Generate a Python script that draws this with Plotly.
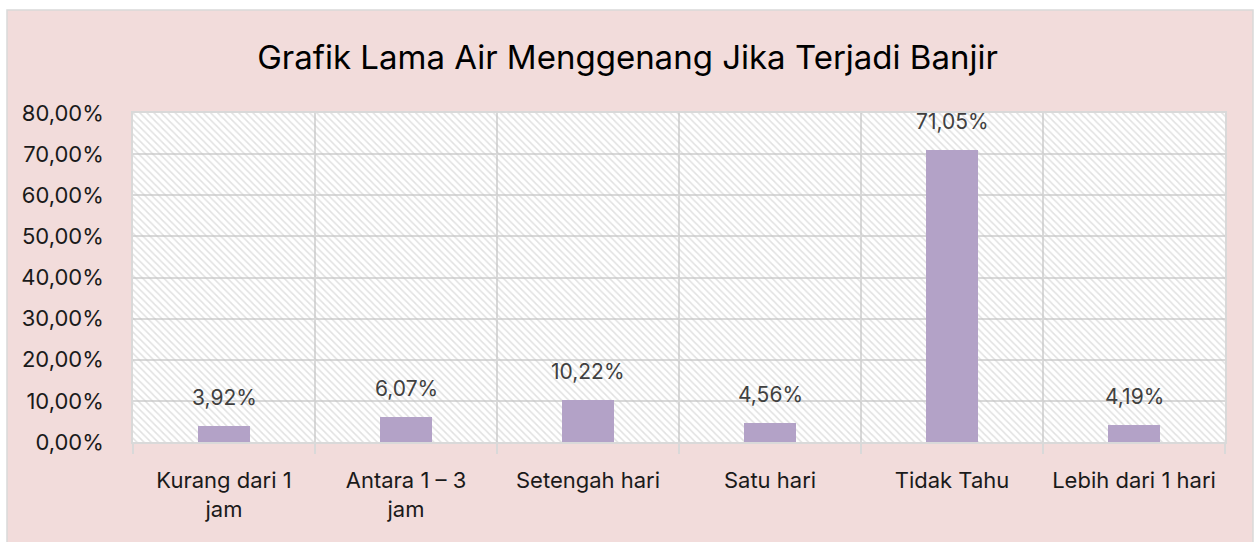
import plotly.graph_objects as go

# Survey results: how long flood water stays
categories = ["Kurang dari 1<br>jam", "Antara 1 – 3<br>jam", "Setengah hari",
              "Satu hari", "Tidak Tahu", "Lebih dari 1 hari"]
shares = [0.0392, 0.0607, 0.1022, 0.0456, 0.7105, 0.0419]
y_ticks = [0.0, 0.1, 0.2, 0.3, 0.4, 0.5, 0.6, 0.7, 0.8]

Y_MAX = 0.8
W, H = 1255, 542
ML, MR, MT, MB = 133, 30, 113, 100
PW, PH = W - ML - MR, H - MT - MB

FONT = "Inter"
PINK = "#F2DCDB"
GRID = "#D9D9D9"
BAR = "#B3A2C7"


def px_x(p):
    return (p - ML) / PW


def px_y(p):
    return (H - MB - p) / PH


fig = go.Figure()

# hatched plot-area background, one full-width cell per category
fig.add_trace(go.Bar(
    x=categories, y=[Y_MAX] * len(categories), width=1,
    marker=dict(color="rgba(0,0,0,0)", line=dict(width=0),
                pattern=dict(shape="\\", fgcolor="#C4C4C4", size=5,
                             solidity=0.3, fillmode="overlay")),
    hoverinfo="skip", showlegend=False,
))

fig.add_trace(go.Bar(
    x=categories, y=shares, width=0.29,
    marker=dict(color=BAR, line=dict(width=0)),
    showlegend=False,
))

for c, v in zip(categories, shares):
    fig.add_annotation(
        x=c, y=v, text=f"{v * 100:.2f}%".replace(".", ","),
        showarrow=False, yanchor="bottom", yshift=14,
        font=dict(family=FONT, size=21, color="#404040"),
    )

# white outer margin and thin border round the chart card
shapes = [
    dict(type="rect", xref="paper", yref="paper", x0=px_x(-5), x1=px_x(7),
         y0=px_y(H + 5), y1=px_y(-5), fillcolor="white", line_width=0, layer="above"),
    dict(type="rect", xref="paper", yref="paper", x0=px_x(-5), x1=px_x(W + 5),
         y0=px_y(10), y1=px_y(-5), fillcolor="white", line_width=0, layer="above"),
    dict(type="rect", xref="paper", yref="paper", x0=px_x(1253), x1=px_x(W + 5),
         y0=px_y(H + 5), y1=px_y(-5), fillcolor="white", line_width=0, layer="above"),
    dict(type="rect", xref="paper", yref="paper", x0=px_x(7), x1=px_x(1253),
         y0=px_y(H + 5), y1=px_y(10), fillcolor="rgba(0,0,0,0)",
         line=dict(color=GRID, width=1.5), layer="above"),
]

fig.update_layout(
    width=W, height=H,
    margin=dict(l=ML, r=MR, t=MT, b=MB),
    paper_bgcolor=PINK, plot_bgcolor="white",
    barmode="overlay", bargap=0,
    separators=",.",
    hovermode=False,
    shapes=shapes,
    title=dict(text="Grafik Lama Air Menggenang Jika Terjadi Banjir",
               x=0.5, xref="container", xanchor="center",
               y=1 - 57 / H, yref="container", yanchor="middle",
               font=dict(family=FONT, size=33, color="#000000")),
    font=dict(family=FONT, size=20, color="#1A1A1A"),
)

fig.update_xaxes(
    type="category", tickson="boundaries", range=[-0.5, len(categories) - 0.5],
    showgrid=True, gridcolor=GRID, gridwidth=1.5,
    ticks="outside", ticklen=10, tickcolor=GRID, tickwidth=1.5,
    ticklabelstandoff=18,
    showline=True, linecolor=GRID, linewidth=1.5, mirror=True,
    tickfont=dict(family=FONT, size=22, color="#1A1A1A"),
)

fig.update_yaxes(
    range=[0, Y_MAX], tickvals=y_ticks, tickformat=".2%",
    showgrid=True, gridcolor=GRID, gridwidth=1.5, zeroline=False,
    showline=True, linecolor=GRID, linewidth=1.5, mirror=True,
    ticks="", ticklabelstandoff=23,
    tickfont=dict(family=FONT, size=22, color="#1A1A1A"),
)

fig.write_html("out.html")
